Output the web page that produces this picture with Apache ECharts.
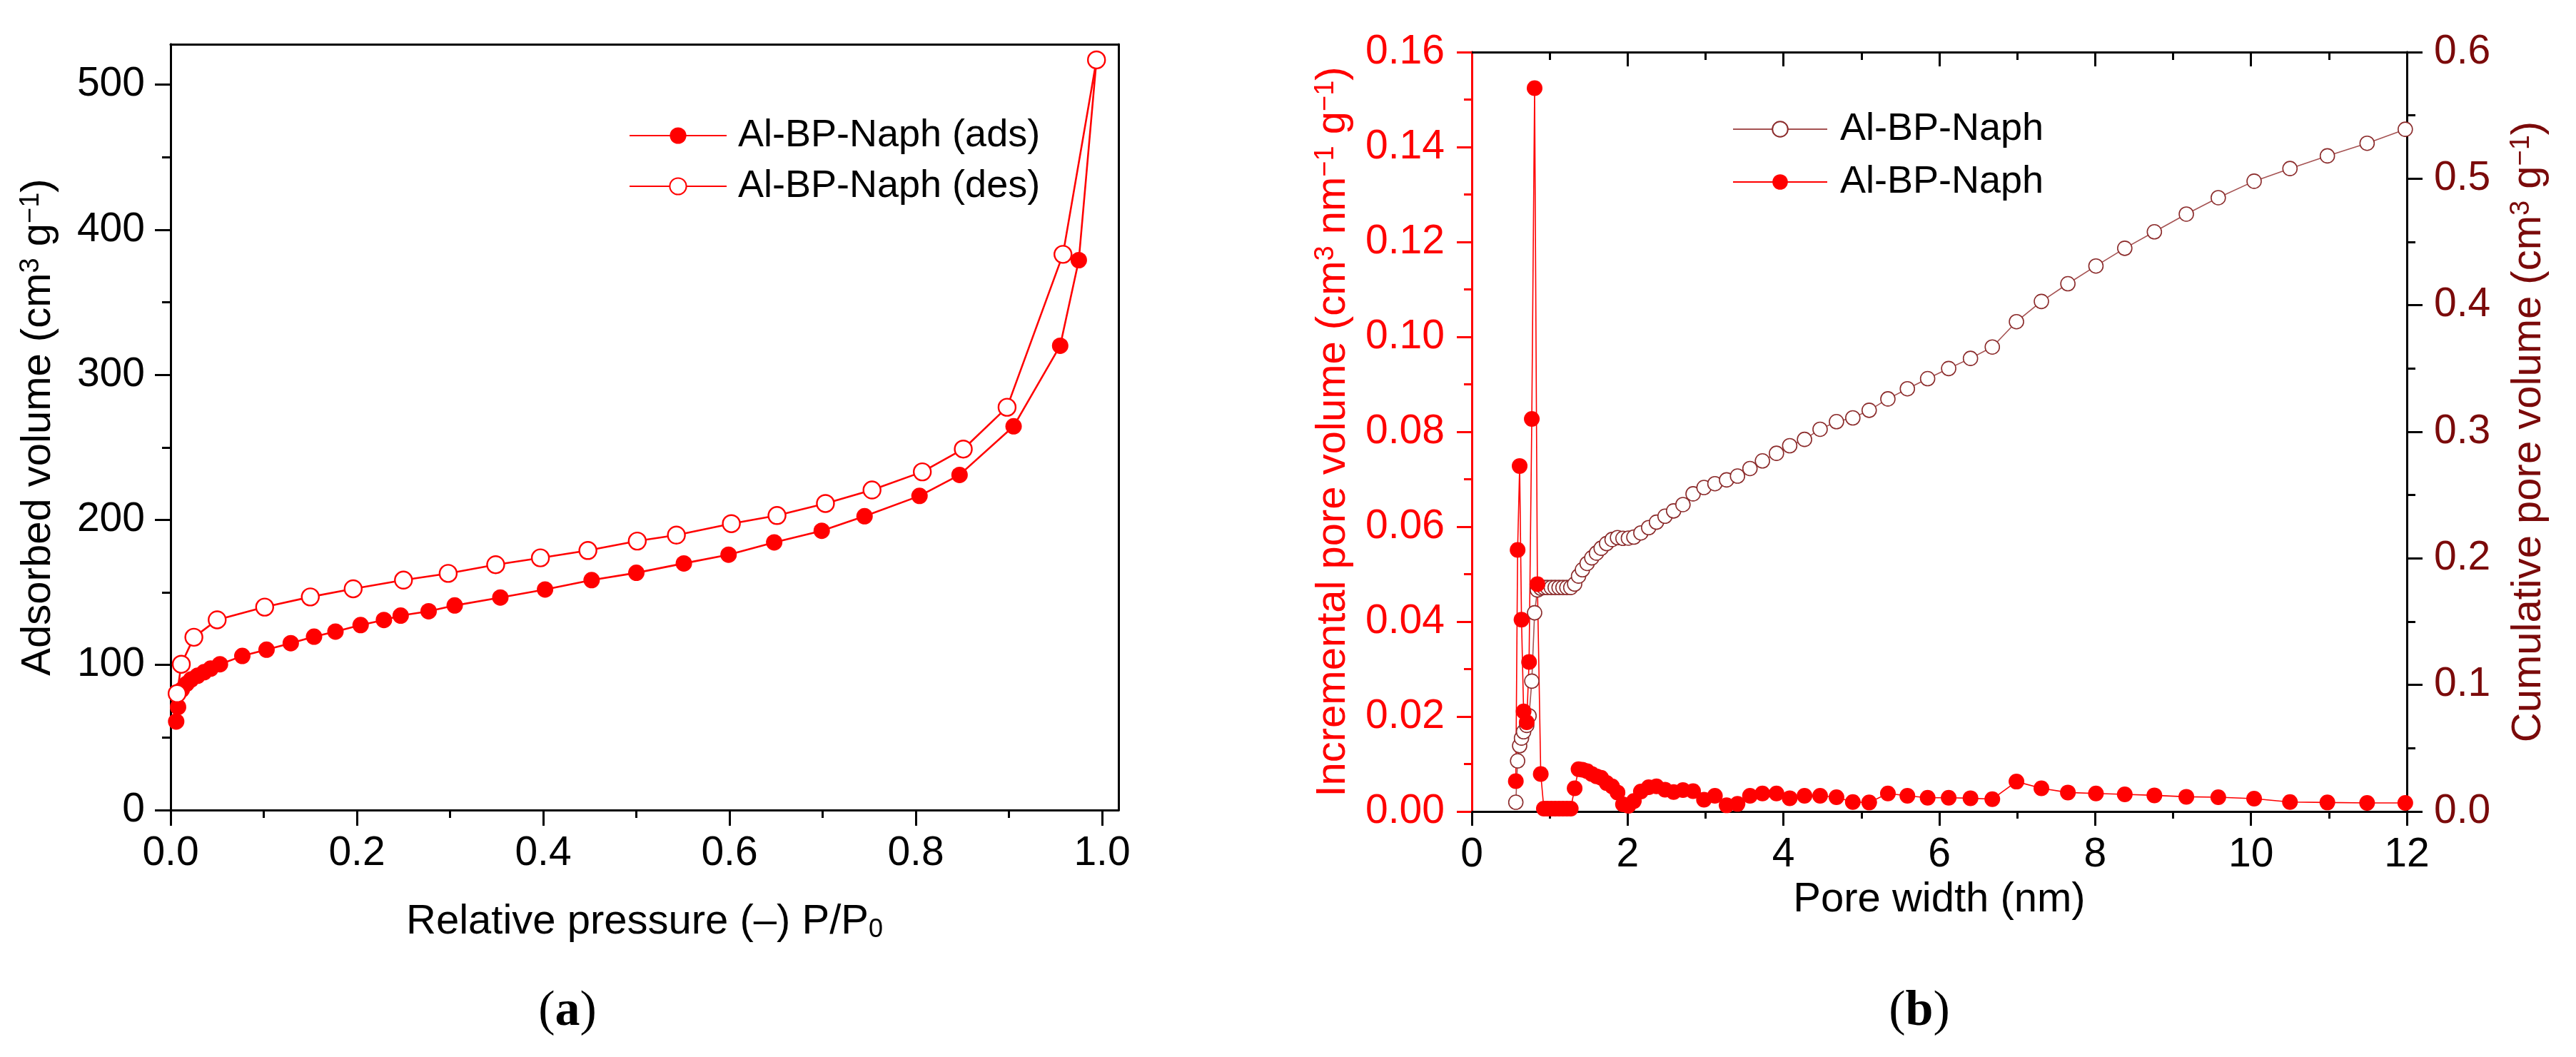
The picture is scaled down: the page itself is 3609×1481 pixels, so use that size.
<!DOCTYPE html>
<html>
<head>
<meta charset="utf-8">
<script src="https://cdn.jsdelivr.net/npm/echarts@6/dist/echarts.min.js"></script>
<style>
  html, body { margin: 0; padding: 0; background: #fff; }
  #main { width: 3609px; height: 1481px; }
</style>
</head>
<body>
<div id="main"></div>
<script>
// (a) N2 isotherm
var adsP = [0.006, 0.008, 0.012, 0.017, 0.022, 0.029, 0.036, 0.043, 0.053, 0.077, 0.103, 0.129, 0.154, 0.177,
  0.204, 0.229, 0.247, 0.277, 0.305, 0.354, 0.402, 0.452, 0.500, 0.551, 0.599, 0.648, 0.699, 0.745, 0.804,
  0.847, 0.905, 0.955, 0.975, 0.994];
var adsV = [61, 71, 83, 87, 90, 92.6, 95, 97.5, 100.5, 106.2, 110.5, 115, 119.5, 123,
  127.5, 131, 134, 137, 141, 146.5, 152, 158.5, 163.5, 170, 176, 184.5, 192.5, 202.5, 216.5,
  231, 264.5, 320, 379, 517];
var desP = [0.994, 0.958, 0.898, 0.851, 0.807, 0.753, 0.703, 0.651, 0.602, 0.543, 0.501, 0.448, 0.397,
  0.349, 0.298, 0.250, 0.196, 0.150, 0.101, 0.050, 0.025, 0.0115, 0.007];
var desV = [517, 383, 277.6, 248.8, 233.1, 220.6, 211.3, 203, 197.4, 189.5, 185.4, 178.9, 173.8,
  169.1, 163.1, 158.5, 152.5, 146.9, 139.9, 131.1, 119.1, 100.5, 80.3];

// (b) pore size distribution, same widths for both curves
var poreWidth = [0.565, 0.588, 0.614, 0.638, 0.665, 0.705, 0.735, 0.770, 0.806, 0.842, 0.885,
  0.925, 0.970, 1.020, 1.070, 1.120, 1.170, 1.220, 1.270,
  1.320, 1.370, 1.420, 1.480, 1.540, 1.600, 1.660, 1.730, 1.800, 1.870,
  1.940, 2.010, 2.080, 2.170, 2.270, 2.370, 2.480, 2.590, 2.710, 2.840,
  2.980, 3.120, 3.270, 3.410, 3.570, 3.730, 3.910, 4.080, 4.270, 4.470,
  4.680, 4.890, 5.100, 5.340, 5.590, 5.850, 6.120, 6.400, 6.680, 6.990,
  7.310, 7.650, 8.010, 8.380, 8.760, 9.170, 9.580, 10.040, 10.500, 10.980,
  11.490, 11.980];
var incVolume = [0.0064, 0.0551, 0.0728, 0.0404, 0.0211, 0.0188, 0.0315, 0.0827, 0.1524, 0.0479, 0.0079,
  0.0006, 0.0006, 0.0006, 0.0006, 0.0006, 0.0006, 0.0006, 0.0006,
  0.0049, 0.0089, 0.0088, 0.0085, 0.0079, 0.0074, 0.0071, 0.0060, 0.0053, 0.0040,
  0.0015, 0.0012, 0.0022, 0.0042, 0.0051, 0.0053, 0.0046, 0.0041, 0.0045, 0.0043,
  0.0025, 0.0033, 0.0013, 0.0016, 0.0033, 0.0038, 0.0038, 0.0028, 0.0033, 0.0033,
  0.0030, 0.0020, 0.0019, 0.0038, 0.0033, 0.0029, 0.0029, 0.0028, 0.0026, 0.0063,
  0.0049, 0.0040, 0.0038, 0.0036, 0.0034, 0.0031, 0.0030, 0.0027, 0.0020, 0.0019,
  0.0018, 0.0018];
var cumVolume = [0.0073, 0.040, 0.052, 0.058, 0.063, 0.068, 0.0756, 0.103, 0.157, 0.175, 0.1765,
  0.177, 0.177, 0.177, 0.177, 0.177, 0.177, 0.177, 0.177,
  0.1797, 0.186, 0.191, 0.196, 0.2004, 0.2042, 0.208, 0.2117, 0.2149, 0.2164,
  0.2158, 0.2160, 0.2168, 0.2201, 0.2243, 0.2286, 0.2333, 0.2375, 0.2425, 0.251,
  0.256, 0.259, 0.262, 0.265, 0.271, 0.277, 0.283, 0.289, 0.294, 0.302,
  0.308, 0.311, 0.317, 0.326, 0.334, 0.342, 0.350, 0.358, 0.367, 0.387,
  0.403, 0.417, 0.431, 0.445, 0.458, 0.472, 0.485, 0.498, 0.508, 0.518,
  0.528, 0.539];

// tick values
var pMajor = [0, 0.2, 0.4, 0.6, 0.8, 1.0];
var pMinor = [0.1, 0.3, 0.5, 0.7, 0.9];
var vMajor = [0, 100, 200, 300, 400, 500];
var vMinor = [50, 150, 250, 350, 450];
var wMajor = [0, 2, 4, 6, 8, 10, 12];
var wMinor = [1, 3, 5, 7, 9, 11];
var wTopMajor = [2, 4, 6, 8, 10];
var incMajor = [0, 0.02, 0.04, 0.06, 0.08, 0.10, 0.12, 0.14, 0.16];
var incMinor = [0.01, 0.03, 0.05, 0.07, 0.09, 0.11, 0.13, 0.15];
var cumMajor = [0, 0.1, 0.2, 0.3, 0.4, 0.5, 0.6];
var cumMinor = [0.05, 0.15, 0.25, 0.35, 0.45, 0.55];

var SANS = '"Liberation Sans", Arial, sans-serif';
var SERIF = '"Liberation Serif", "Times New Roman", serif';
var RED = '#ff0000';
var BROWN = '#8b2b2b';
var DARKRED = '#7b0a0a';

function pairs(xs, ys) {
  return xs.map(function (x, i) { return [x, ys[i]]; });
}

// one axis layer: line + a set of ticks (+ optional labels and name)
function axisPart(grid, pos, min, max, ticks, len, o) {
  o = o || {};
  var col = o.color || '#000';
  var ax = {
    type: 'value', gridIndex: grid, position: pos, min: min, max: max,
    axisLine: { show: true, onZero: false, lineStyle: { color: col, width: 3 } },
    axisTick: { show: ticks.length > 0, customValues: ticks, length: len, inside: !!o.inside,
      lineStyle: { color: col, width: 3 } },
    axisLabel: { show: false },
    splitLine: { show: false },
    minorTick: { show: false }
  };
  if (o.labels) {
    ax.axisLabel = { show: true, customValues: ticks, formatter: o.fmt, margin: o.margin,
      color: o.labelColor || col, fontSize: 57, fontFamily: SANS };
  }
  if (o.name) {
    ax.name = o.name;
    ax.nameLocation = 'middle';
    ax.nameGap = o.nameGap;
    ax.nameRotate = o.nameRotate;
    ax.nameMoveOverlap = false;
    ax.nameTextStyle = {
      color: o.nameColor || '#000', fontSize: 58, lineHeight: 58, fontFamily: SANS,
      rich: {
        sup: { fontSize: 38, lineHeight: 25, verticalAlign: 'top', color: o.nameColor || '#000', fontFamily: SANS },
        sub: { fontSize: 36, lineHeight: 12, verticalAlign: 'bottom', color: o.nameColor || '#000', fontFamily: SANS }
      }
    };
  }
  return ax;
}

var chart = echarts.init(document.getElementById('main'), null, { renderer: 'canvas' });

var option = {
  backgroundColor: '#fff',
  animation: false,
  textStyle: { fontFamily: SANS },
  grid: [
    { left: 239, top: 62, width: 1328, height: 1073, containLabel: false, outerBoundsMode: 'none' },
    { left: 2062, top: 73, width: 1310, height: 1064, containLabel: false, outerBoundsMode: 'none' }
  ],
  xAxis: [
    axisPart(0, 'bottom', 0, 1.0176, pMajor, 22, { labels: true, margin: 33,
      fmt: function (v) { return v.toFixed(1); },
      name: 'Relative pressure (–) P/P{sub|0}', nameGap: 128 }),
    axisPart(0, 'bottom', 0, 1.0176, pMinor, 11),
    axisPart(0, 'top', 0, 1.0176, []),
    axisPart(1, 'bottom', 0, 12, wMajor, 20, { labels: true, margin: 33,
      fmt: function (v) { return String(v); },
      name: 'Pore width (nm)', nameGap: 95 }),
    axisPart(1, 'bottom', 0, 12, wMinor, 10),
    axisPart(1, 'top', 0, 12, wTopMajor, 20, { inside: true }),
    axisPart(1, 'top', 0, 12, wMinor, 11, { inside: true })
  ],
  yAxis: [
    axisPart(0, 'left', 0, 527.8, vMajor, 22, { labels: true, margin: 36,
      fmt: function (v) { return String(v); },
      name: 'Adsorbed volume (cm{sup|3} g{sup|−1})', nameGap: 156, nameRotate: 90 }),
    axisPart(0, 'left', 0, 527.8, vMinor, 12),
    axisPart(0, 'right', 0, 527.8, []),
    axisPart(1, 'left', 0, 0.16, incMajor, 21, { labels: true, margin: 38, color: RED,
      fmt: function (v) { return v.toFixed(2); },
      name: 'Incremental pore volume (cm{sup|3} nm{sup|−1} g{sup|−1})', nameGap: 165, nameRotate: 90,
      nameColor: RED }),
    axisPart(1, 'left', 0, 0.16, incMinor, 11, { color: RED }),
    axisPart(1, 'right', 0, 0.6, cumMajor, 22, { labels: true, margin: 38, labelColor: DARKRED,
      fmt: function (v) { return v.toFixed(1); },
      name: 'Cumulative pore volume (cm{sup|3} g{sup|−1})', nameGap: 142, nameRotate: 90,
      nameColor: DARKRED }),
    axisPart(1, 'right', 0, 0.6, cumMinor, 12)
  ],
  legend: [
    {
      data: ['Al-BP-Naph (ads)', 'Al-BP-Naph (des)'],
      orient: 'vertical', left: 881, top: 163, padding: 0,
      itemWidth: 136, itemHeight: 29, itemGap: 17,
      textStyle: { color: '#000', fontSize: 54, lineHeight: 54, fontFamily: SANS, padding: [0, 0, 0, 11] }
    },
    {
      data: ['cum', 'inc'],
      formatter: function () { return 'Al-BP-Naph'; },
      orient: 'vertical', left: 2427, top: 154, padding: 0,
      itemWidth: 132, itemHeight: 27, itemGap: 20,
      textStyle: { color: '#000', fontSize: 54, lineHeight: 54, fontFamily: SANS, padding: [0, 0, 0, 13] }
    }
  ],
  series: [
    {
      name: 'Al-BP-Naph (ads)', type: 'line', xAxisIndex: 0, yAxisIndex: 0,
      data: pairs(adsP, adsV),
      symbol: 'circle', symbolSize: 23,
      itemStyle: { color: RED },
      lineStyle: { color: RED, width: 2.6 }
    },
    {
      name: 'Al-BP-Naph (des)', type: 'line', xAxisIndex: 0, yAxisIndex: 0,
      data: pairs(desP, desV),
      symbol: 'circle', symbolSize: 24,
      itemStyle: { color: '#fff', borderColor: RED, borderWidth: 2.4 },
      lineStyle: { color: RED, width: 2.6 }
    },
    {
      name: 'cum', type: 'line', xAxisIndex: 3, yAxisIndex: 5,
      data: pairs(poreWidth, cumVolume),
      symbol: 'circle', symbolSize: 20,
      itemStyle: { color: '#fff', borderColor: BROWN, borderWidth: 1.6 },
      lineStyle: { color: '#a55252', width: 1.6 }
    },
    {
      name: 'inc', type: 'line', xAxisIndex: 3, yAxisIndex: 3,
      data: pairs(poreWidth, incVolume),
      symbol: 'circle', symbolSize: 22,
      itemStyle: { color: RED },
      lineStyle: { color: RED, width: 1.6 }
    }
  ],
  graphic: [
    { type: 'text', x: 795, y: 1418,
      style: { text: '({b|a})', fontSize: 70, fontFamily: SERIF, fill: '#000',
        align: 'center', verticalAlign: 'middle',
        rich: { b: { fontSize: 70, fontFamily: SERIF, fontWeight: 'bold' } } } },
    { type: 'text', x: 2689, y: 1418,
      style: { text: '({b|b})', fontSize: 70, fontFamily: SERIF, fill: '#000',
        align: 'center', verticalAlign: 'middle',
        rich: { b: { fontSize: 70, fontFamily: SERIF, fontWeight: 'bold' } } } }
  ]
};

chart.setOption(option);
</script>
</body>
</html>
